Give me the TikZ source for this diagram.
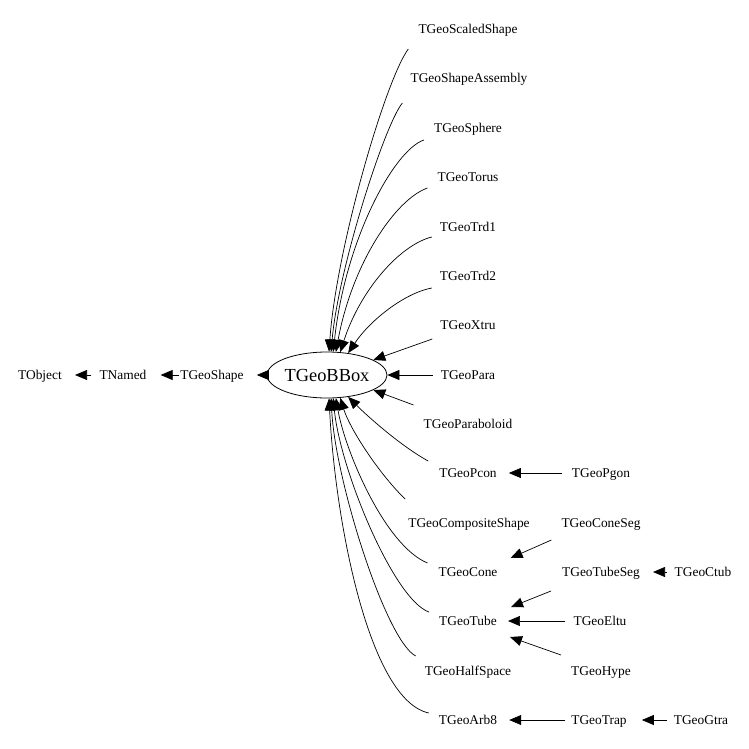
\documentclass[tikz,border=0pt]{standalone}
\usepackage{fontspec}
\setmainfont{Liberation Serif}
\usetikzlibrary{arrows.meta,shapes.geometric}
\begin{document}
\begin{tikzpicture}[x=1pt,y=-1pt,
  lbl/.style={inner sep=0pt, font=\fontsize{13.4}{15}\selectfont, text height=8.8pt, text depth=0pt},
  root/.style={ellipse, draw, line width=0.8pt, minimum width=118pt, minimum height=46pt, inner sep=0pt, font=\fontsize{18.4}{21}\selectfont},
  arr/.style={line width=0.7pt, -{Triangle[length=12pt,width=10pt]}}
]
\useasboundingbox[fill=white] (0,0) rectangle (749,749);
% left chain
\node[lbl] (to) at (40,375) {TObject};
\node[lbl] (tn) at (123,375) {TNamed};
\node[lbl] (gs) at (212,375) {TGeoShape};
\node[root] (bb) at (327,375) {TGeoBBox};
% second column
\node[lbl] (ss) at (468,29) {TGeoScaledShape};
\node[lbl] (sa) at (469,78) {TGeoShapeAssembly};
\node[lbl] (sp) at (468,128) {TGeoSphere};
\node[lbl] (tor) at (468,177) {TGeoTorus};
\node[lbl] (ta) at (468,227) {TGeoTrd1};
\node[lbl] (tb2) at (468,276) {TGeoTrd2};
\node[lbl] (xt) at (468,325) {TGeoXtru};
\node[lbl] (pa) at (468,375) {TGeoPara};
\node[lbl] (pb) at (468,424) {TGeoParaboloid};
\node[lbl] (pc) at (468,473) {TGeoPcon};
\node[lbl] (cs) at (469,523) {TGeoCompositeShape};
\node[lbl] (cn) at (468,572) {TGeoCone};
\node[lbl] (tu) at (468,621) {TGeoTube};
\node[lbl] (hs) at (468,671) {TGeoHalfSpace};
\node[lbl] (a8) at (468,720) {TGeoArb8};
% third column
\node[lbl] (pg) at (601,473) {TGeoPgon};
\node[lbl] (csg) at (601,523) {TGeoConeSeg};
\node[lbl] (tsg) at (601,572) {TGeoTubeSeg};
\node[lbl] (el) at (600,621) {TGeoEltu};
\node[lbl] (hy) at (601,671) {TGeoHype};
\node[lbl] (tr) at (599,720) {TGeoTrap};
% fourth column
\node[lbl] (ct) at (703,572) {TGeoCtub};
\node[lbl] (gt) at (701,720) {TGeoGtra};
% left chain edges
\draw[arr] ([xshift=-8pt]tn.west) -- ([xshift=13pt]to.east);
\draw[arr] ([xshift=-1pt]gs.west) -- ([xshift=14pt]tn.east);
\draw[arr] (bb.west) -- ([xshift=13pt]gs.east);
% upper curves
\draw[arr] ([xshift=-10pt,yshift=-20pt]ss.west) .. controls +(-23,31) and +(7,-102) .. (bb.85);
\draw[arr] ([xshift=-8pt,yshift=-25pt]sa.west) .. controls +(-18,22) and +(7,-82) .. (bb.80);
\draw[arr] ([xshift=-10pt,yshift=-12pt]sp.west) .. controls +(-30,10) and +(12,-112) .. (bb.75);
\draw[arr] ([xshift=-10pt,yshift=-11pt]tor.west) .. controls +(-33,12) and +(16,-87) .. (bb.69);
\draw[arr] ([xshift=-8pt,yshift=-10pt]ta.west) .. controls +(-32,8) and +(20,-62) .. (bb.60);
\draw[arr] ([xshift=-8pt,yshift=-12pt]tb2.west) .. controls +(-27,5) and +(22,-33) .. (bb.46);
\draw[arr] ([xshift=-8pt,yshift=-14pt]xt.west) -- (bb.18);
\draw[arr] ([xshift=-8pt]pa.west) -- (bb.east);
\draw[arr] ([xshift=-10pt,yshift=19pt]pb.west) -- (bb.-18);
% lower curves
\draw[arr] ([xshift=-11pt,yshift=12pt]pc.west) .. controls +(-29,-16) and +(17,17) .. (bb.-46);
\draw[arr] ([xshift=-3pt,yshift=24pt]cs.west) .. controls +(-25,-24) and +(10,32) .. (bb.-60);
\draw[arr] ([xshift=-11pt,yshift=9pt]cn.west) .. controls +(-43,-18) and +(9,52) .. (bb.-69);
\draw[arr] ([xshift=-10pt,yshift=9pt]tu.west) .. controls +(-35,-12) and +(7,72) .. (bb.-75);
\draw[arr] ([xshift=-9pt,yshift=15pt]hs.west) .. controls +(-30,-16) and +(4,82) .. (bb.-80);
\draw[arr] ([xshift=-10pt,yshift=7pt]a8.west) .. controls +(-60,-13) and +(6,122) .. (bb.-85);
% right side edges
\draw[arr] ([xshift=-10pt]pg.west) -- ([xshift=12pt]pc.east);
\draw[arr] ([xshift=-10pt,yshift=-17pt]csg.west) -- ([xshift=13pt,yshift=14pt]cn.east);
\draw[arr] ([xshift=-11pt,yshift=-19pt]tsg.west) -- ([xshift=14pt,yshift=14pt]tu.east);
\draw[arr] ([xshift=-8pt]el.west) -- ([xshift=11pt]tu.east);
\draw[arr] ([xshift=-10pt,yshift=16pt]hy.west) -- ([xshift=13pt,yshift=-16pt]tu.east);
\draw[arr] ([xshift=-8pt]ct.west) -- ([xshift=13pt]tsg.east);
\draw[arr] ([xshift=-6pt]tr.west) -- ([xshift=12pt]a8.east);
\draw[arr] ([xshift=-7pt]gt.west) -- ([xshift=15pt]tr.east);
\end{tikzpicture}
\end{document}
